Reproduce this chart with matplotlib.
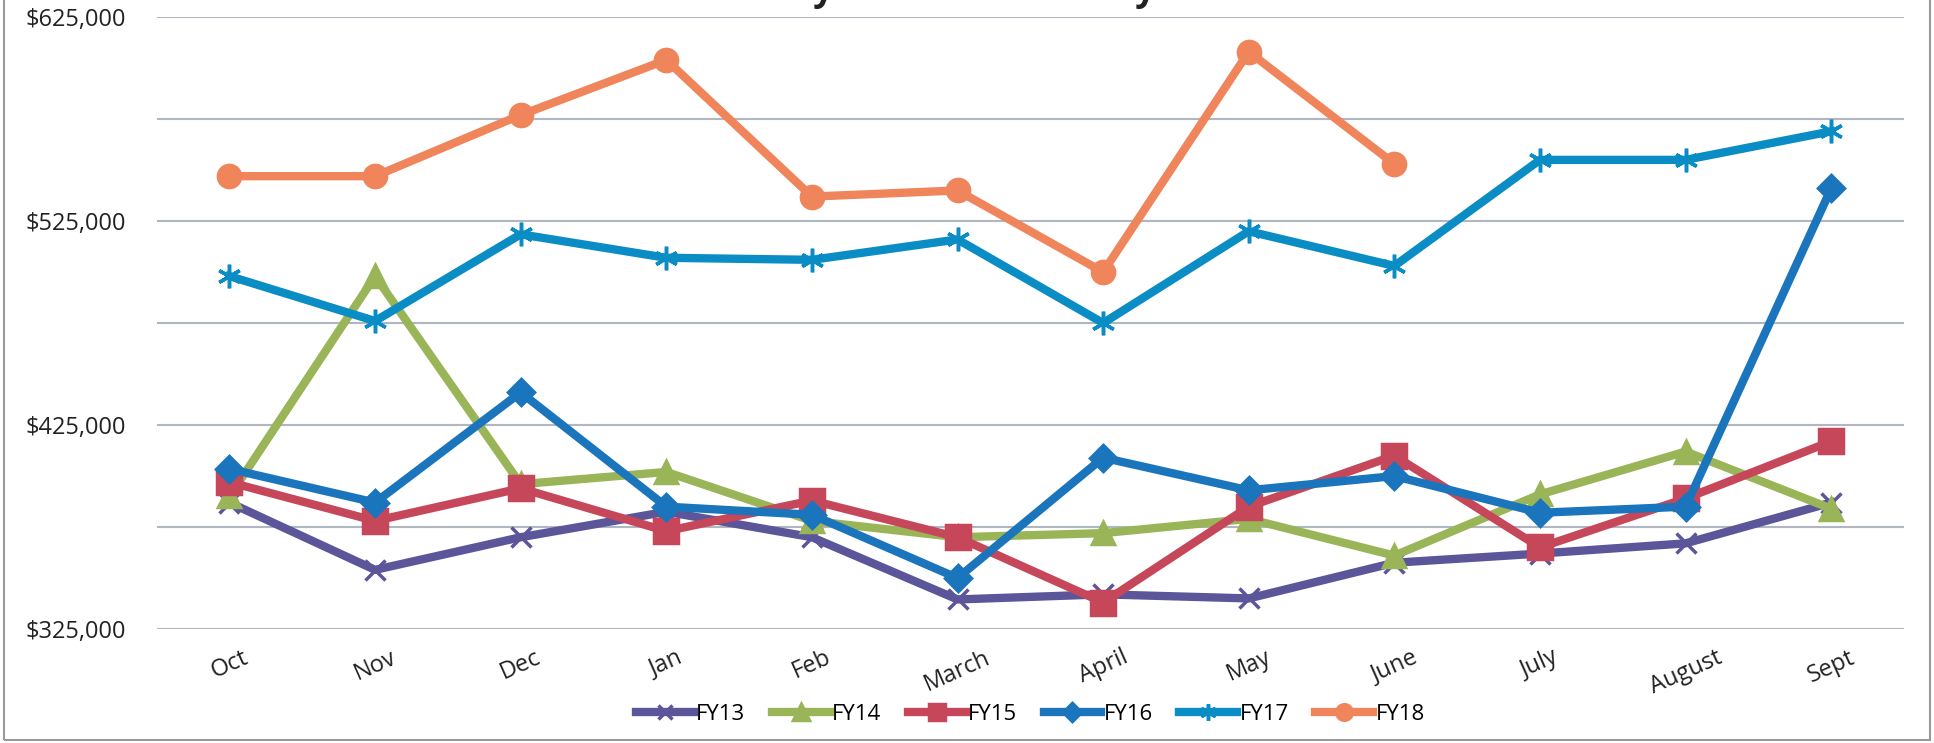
import numpy as np
import matplotlib.pyplot as plt
from matplotlib.patches import Rectangle
from matplotlib.ticker import FuncFormatter, FixedLocator

months = ['Oct', 'Nov', 'Dec', 'Jan', 'Feb', 'March', 'April', 'May', 'June',
          'July', 'August', 'Sept']

fy13 = [387000, 354000, 370000, 382500, 370000, 339500, 342000, 340000, 357500, 362000, 367000, 387000]
fy14 = [390000, 498000, 396000, 402000, 378000, 370000, 372000, 379000, 361000, 391000, 412000, 384000]
fy15 = [397000, 378000, 394000, 373000, 388000, 370000, 338000, 385000, 410000, 365000, 389000, 417000]
fy16 = [403500, 387000, 441000, 385000, 381000, 350000, 409000, 393000, 400000, 382000, 385000, 541000]
fy17 = [498000, 476000, 518500, 507000, 506000, 516000, 475000, 520000, 503000, 555000, 555000, 569000]
fy18 = [547000, 547000, 577000, 604000, 537000, 540000, 500000, 608000, 553000]

y_ticks = [325000, 425000, 525000, 625000]
y_grid = [375000, 475000, 575000]

plt.rcParams['font.family'] = ['Open Sans', 'DejaVu Sans']

fig = plt.figure(figsize=(19.34, 7.43), dpi=100)
ax = fig.add_axes([0.081, 0.1534, 0.9035, 0.8236])

x = np.arange(len(months))
series = [
    ('FY13', fy13, '#5B559A', 'x', 15),
    ('FY14', fy14, '#9AB557', '^', 16),
    ('FY15', fy15, '#C7475A', 's', 17),
    ('FY16', fy16, '#1A75BC', 'D', 13),
    ('FY17', fy17, '#0A8CC4', (6, 2, 0), 17),
    ('FY18', fy18, '#F0845A', 'o', 16),
]
for name, vals, col, mk, ms in series:
    ax.plot(x[:len(vals)], vals, color=col, lw=6, marker=mk, markersize=ms,
            markeredgewidth=2.5, markerfacecolor=col, markeredgecolor=col,
            solid_joinstyle='round', label=name)

ax.set_xlim(-0.5, len(months) - 0.5)
ax.set_ylim(325000, 625000)
ax.yaxis.set_major_locator(FixedLocator(y_ticks))
ax.yaxis.set_minor_locator(FixedLocator(y_grid))
ax.yaxis.set_major_formatter(FuncFormatter(lambda v, p: '${:,.0f}'.format(v)))
ax.grid(axis='y', which='both', color='#B0B7C0', lw=1.5)
ax.set_axisbelow(True)
for s in ax.spines.values():
    s.set_visible(False)
ax.tick_params(axis='both', which='both', length=0, labelsize=17, colors='#222222')
ax.tick_params(axis='y', pad=22)
ax.set_xticks(x)
ax.set_xticklabels(months, rotation=24, ha='center', fontsize=17)
ax.tick_params(axis='x', pad=12)

fig.text(0.5, 0.988, 'Monthly Sales Tax Net Payment', ha='center', va='bottom',
         fontsize=26, fontweight='bold', color='#222222')

ax.legend(loc='center', bbox_to_anchor=(0.5, -0.14), ncol=6, frameon=False,
          fontsize=16, handlelength=2.6, handletextpad=0.1, columnspacing=1.2,
          markerscale=0.7, borderaxespad=0)

fig.patches.append(Rectangle((0.002, 0.004), 0.996, 1.2, transform=fig.transFigure,
                             fill=False, edgecolor='#999999', lw=1.5))

fig.savefig('out.png', dpi=100)
